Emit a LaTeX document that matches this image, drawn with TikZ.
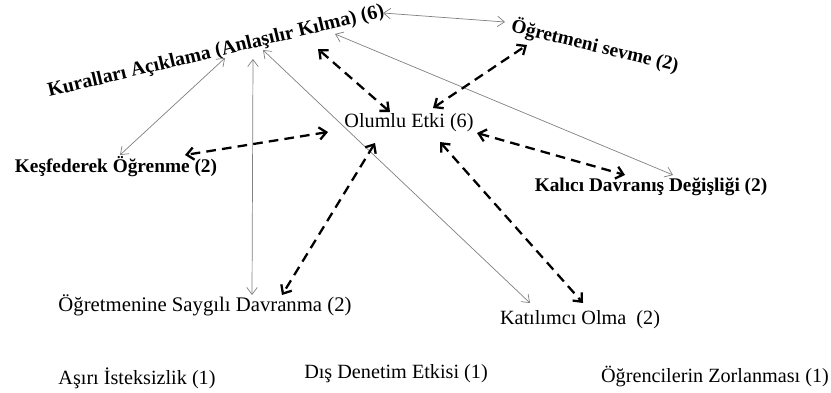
\documentclass[tikz,border=0pt]{standalone}
\usepackage{fontspec}
\setmainfont{Liberation Serif}
\usetikzlibrary{arrows.meta}
\begin{document}
\begin{tikzpicture}[x=0.02cm,y=-0.02cm,
  etiket/.style={font=\fontsize{11.5}{13}\selectfont, inner sep=1pt},
  kalin/.style={inner sep=1pt, font=\fontsize{11}{13}\selectfont\bfseries},
  ince/.style={<->, >={Straight Barb[length=4pt,width=6pt]}, gray, line width=0.4pt},
  kesik/.style={<->, >={Straight Barb[length=4pt,width=7pt]}, line width=1.3pt, dash pattern=on 5.5pt off 3.5pt}]
\useasboundingbox (0,0) rectangle (831,392);
\node [kalin, rotate=13.5, font=\fontsize{11.3}{13}\selectfont\bfseries] (kural) at (216,52) {Kuralları Açıklama (Anlaşılır Kılma) (6)};
\node [kalin, rotate=-13.5] (sevme) at (595,46) {Öğretmeni sevme (2)};
\node [etiket] (olumlu) at (409,123) {Olumlu Etki (6)};
\node [kalin] (kesf) at (116,167) {Keşfederek Öğrenme (2)};
\node [kalin] (kalici) at (651,187) {Kalıcı Davranış Değişliği (2)};
\node [etiket, font=\fontsize{11.8}{13}\selectfont] (saygi) at (205,305) {Öğretmenine Saygılı Davranma (2)};
\node [etiket] (katil) at (580,320) {Katılımcı Olma \ (2)};
\node [etiket] (asiri) at (137,378) {Aşırı İsteksizlik (1)};
\node [etiket] (dis) at (396,374) {Dış Denetim Etkisi (1)};
\node [etiket] (zorl) at (715,376) {Öğrencilerin Zorlanması (1)};
\draw [ince] ([shift={(167,-39)}]kural.center) -- ([shift={(-90,-24)}]sevme.center);
\draw [ince] ([shift={(9,6)}]kural.center) -- ([shift={(4,-12)}]kesf.center);
\draw [ince] ([shift={(37,7)}]kural.center) -- ([shift={(47,-10)}]saygi.center);
\draw [ince] ([shift={(47,-2)}]kural.center) -- ([shift={(-50,-17)}]katil.center);
\draw [ince] ([shift={(119,-18)}]kural.center) -- ([shift={(22,-12)}]kalici.center);
\draw [kesik] ([shift={(-19,-11)}]olumlu.center) -- ([shift={(102,-3)}]kural.center);
\draw [kesik] ([shift={(24,-15)}]olumlu.center) -- ([shift={(-68,-1)}]sevme.center);
\draw [kesik] ([shift={(-81,9)}]olumlu.center) -- ([shift={(69,-12)}]kesf.center);
\draw [kesik] ([shift={(-34,20)}]olumlu.center) -- ([shift={(77,-10)}]saygi.center);
\draw [kesik] ([shift={(68,10)}]olumlu.center) -- ([shift={(-26,-12)}]kalici.center);
\draw [kesik] ([shift={(31,19)}]olumlu.center) -- ([shift={(3,-17)}]katil.center);
\end{tikzpicture}
\end{document}
